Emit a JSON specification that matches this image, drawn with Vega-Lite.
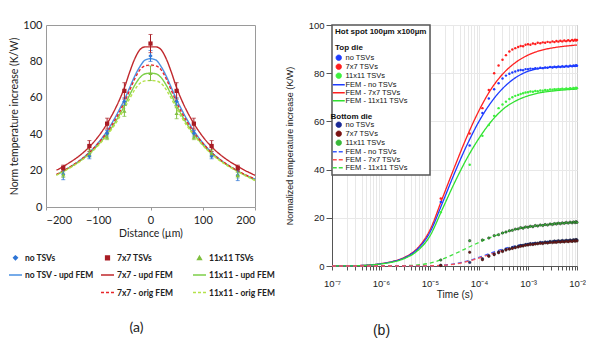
{
"$schema":"https://vega.github.io/schema/vega-lite/v6.json",
"padding":{"left":7,"top":18,"right":0,"bottom":0},
"spacing":8,
"background":"white",
"config":{"view":{"stroke":null}},
"resolve":{"scale":{"color":"independent","strokeDash":"independent"},"legend":{"color":"independent"}},
"datasets":{
"am":[
{"s":"no TSVs","x":-167,"y":18,"e":3},{"s":"no TSVs","x":-117,"y":28,"e":1.5},{"s":"no TSVs","x":-83,"y":40.5,"e":1.5},{"s":"no TSVs","x":-50,"y":58,"e":2},{"s":"no TSVs","x":0,"y":83,"e":3},{"s":"no TSVs","x":50,"y":58,"e":2},{"s":"no TSVs","x":83,"y":40.5,"e":1.5},{"s":"no TSVs","x":117,"y":28,"e":1.5},{"s":"no TSVs","x":167,"y":17.5,"e":3},
{"s":"7x7 TSVs","x":-167,"y":21.5,"e":1.5},{"s":"7x7 TSVs","x":-117,"y":33.5,"e":3},{"s":"7x7 TSVs","x":-83,"y":45.8,"e":3},{"s":"7x7 TSVs","x":-50,"y":63.8,"e":4.5},{"s":"7x7 TSVs","x":0,"y":89.8,"e":5},{"s":"7x7 TSVs","x":50,"y":63.8,"e":4.5},{"s":"7x7 TSVs","x":83,"y":45.8,"e":3},{"s":"7x7 TSVs","x":117,"y":33.5,"e":3},{"s":"7x7 TSVs","x":167,"y":21.5,"e":1.5},
{"s":"11x11 TSVs","x":-167,"y":17.8,"e":1.5},{"s":"11x11 TSVs","x":-117,"y":29.5,"e":2},{"s":"11x11 TSVs","x":-83,"y":38.5,"e":1.5},{"s":"11x11 TSVs","x":-50,"y":52.8,"e":3},{"s":"11x11 TSVs","x":0,"y":73.5,"e":4},{"s":"11x11 TSVs","x":50,"y":51.5,"e":3},{"s":"11x11 TSVs","x":83,"y":38.5,"e":1.5},{"s":"11x11 TSVs","x":117,"y":29.5,"e":2},{"s":"11x11 TSVs","x":167,"y":17.5,"e":1.5}
],
"al":[
{"s":"no TSV - upd FEM","x":-180,"y":17.8},{"s":"no TSV - upd FEM","x":-170,"y":19.3},{"s":"no TSV - upd FEM","x":-160,"y":21},{"s":"no TSV - upd FEM","x":-150,"y":22.7},{"s":"no TSV - upd FEM","x":-140,"y":24.6},{"s":"no TSV - upd FEM","x":-130,"y":26.8},{"s":"no TSV - upd FEM","x":-120,"y":29.2},{"s":"no TSV - upd FEM","x":-110,"y":32},{"s":"no TSV - upd FEM","x":-100,"y":35.3},{"s":"no TSV - upd FEM","x":-90,"y":39},{"s":"no TSV - upd FEM","x":-80,"y":43.2},{"s":"no TSV - upd FEM","x":-70,"y":48},{"s":"no TSV - upd FEM","x":-60,"y":53.3},{"s":"no TSV - upd FEM","x":-50,"y":59},{"s":"no TSV - upd FEM","x":-40,"y":65.5},{"s":"no TSV - upd FEM","x":-30,"y":72},{"s":"no TSV - upd FEM","x":-20,"y":77.3},{"s":"no TSV - upd FEM","x":-10,"y":80.8},{"s":"no TSV - upd FEM","x":0,"y":81.5},{"s":"no TSV - upd FEM","x":10,"y":80.8},{"s":"no TSV - upd FEM","x":20,"y":77.3},{"s":"no TSV - upd FEM","x":30,"y":72},{"s":"no TSV - upd FEM","x":40,"y":65.5},{"s":"no TSV - upd FEM","x":50,"y":59},{"s":"no TSV - upd FEM","x":60,"y":53.3},{"s":"no TSV - upd FEM","x":70,"y":48},{"s":"no TSV - upd FEM","x":80,"y":43.2},{"s":"no TSV - upd FEM","x":90,"y":39},{"s":"no TSV - upd FEM","x":100,"y":35.3},{"s":"no TSV - upd FEM","x":110,"y":32},{"s":"no TSV - upd FEM","x":120,"y":29.2},{"s":"no TSV - upd FEM","x":130,"y":26.8},{"s":"no TSV - upd FEM","x":140,"y":24.6},{"s":"no TSV - upd FEM","x":150,"y":22.7},{"s":"no TSV - upd FEM","x":160,"y":21},{"s":"no TSV - upd FEM","x":170,"y":19.3},{"s":"no TSV - upd FEM","x":180,"y":17.8},{"s":"no TSV - upd FEM","x":190,"y":16.5},{"s":"no TSV - upd FEM","x":200,"y":15.4},
{"s":"7x7 - upd FEM","x":-180,"y":20.2},{"s":"7x7 - upd FEM","x":-170,"y":21.8},{"s":"7x7 - upd FEM","x":-160,"y":23.5},{"s":"7x7 - upd FEM","x":-150,"y":25.3},{"s":"7x7 - upd FEM","x":-140,"y":27.3},{"s":"7x7 - upd FEM","x":-130,"y":29.6},{"s":"7x7 - upd FEM","x":-120,"y":32.2},{"s":"7x7 - upd FEM","x":-110,"y":35.2},{"s":"7x7 - upd FEM","x":-100,"y":38.7},{"s":"7x7 - upd FEM","x":-90,"y":42.7},{"s":"7x7 - upd FEM","x":-80,"y":47.3},{"s":"7x7 - upd FEM","x":-70,"y":52.5},{"s":"7x7 - upd FEM","x":-60,"y":58.5},{"s":"7x7 - upd FEM","x":-50,"y":65.5},{"s":"7x7 - upd FEM","x":-40,"y":74},{"s":"7x7 - upd FEM","x":-30,"y":81.5},{"s":"7x7 - upd FEM","x":-20,"y":86.5},{"s":"7x7 - upd FEM","x":-10,"y":88},{"s":"7x7 - upd FEM","x":0,"y":88},{"s":"7x7 - upd FEM","x":10,"y":88},{"s":"7x7 - upd FEM","x":20,"y":86.5},{"s":"7x7 - upd FEM","x":30,"y":81.5},{"s":"7x7 - upd FEM","x":40,"y":74},{"s":"7x7 - upd FEM","x":50,"y":65.5},{"s":"7x7 - upd FEM","x":60,"y":58.5},{"s":"7x7 - upd FEM","x":70,"y":52.5},{"s":"7x7 - upd FEM","x":80,"y":47.3},{"s":"7x7 - upd FEM","x":90,"y":42.7},{"s":"7x7 - upd FEM","x":100,"y":38.7},{"s":"7x7 - upd FEM","x":110,"y":35.2},{"s":"7x7 - upd FEM","x":120,"y":32.2},{"s":"7x7 - upd FEM","x":130,"y":29.6},{"s":"7x7 - upd FEM","x":140,"y":27.3},{"s":"7x7 - upd FEM","x":150,"y":25.3},{"s":"7x7 - upd FEM","x":160,"y":23.5},{"s":"7x7 - upd FEM","x":170,"y":21.8},{"s":"7x7 - upd FEM","x":180,"y":20.2},{"s":"7x7 - upd FEM","x":190,"y":18.8},{"s":"7x7 - upd FEM","x":200,"y":17.4},
{"s":"11x11 - upd FEM","x":-180,"y":17.7},{"s":"11x11 - upd FEM","x":-170,"y":19.2},{"s":"11x11 - upd FEM","x":-160,"y":20.8},{"s":"11x11 - upd FEM","x":-150,"y":22.5},{"s":"11x11 - upd FEM","x":-140,"y":24.3},{"s":"11x11 - upd FEM","x":-130,"y":26.3},{"s":"11x11 - upd FEM","x":-120,"y":28.6},{"s":"11x11 - upd FEM","x":-110,"y":31.2},{"s":"11x11 - upd FEM","x":-100,"y":34.2},{"s":"11x11 - upd FEM","x":-90,"y":37.5},{"s":"11x11 - upd FEM","x":-80,"y":41.2},{"s":"11x11 - upd FEM","x":-70,"y":45.5},{"s":"11x11 - upd FEM","x":-60,"y":50.3},{"s":"11x11 - upd FEM","x":-50,"y":55.5},{"s":"11x11 - upd FEM","x":-40,"y":61.5},{"s":"11x11 - upd FEM","x":-30,"y":67},{"s":"11x11 - upd FEM","x":-20,"y":71.2},{"s":"11x11 - upd FEM","x":-10,"y":73.2},{"s":"11x11 - upd FEM","x":0,"y":73.5},{"s":"11x11 - upd FEM","x":10,"y":73.2},{"s":"11x11 - upd FEM","x":20,"y":71.2},{"s":"11x11 - upd FEM","x":30,"y":67},{"s":"11x11 - upd FEM","x":40,"y":61.5},{"s":"11x11 - upd FEM","x":50,"y":55.5},{"s":"11x11 - upd FEM","x":60,"y":50.3},{"s":"11x11 - upd FEM","x":70,"y":45.5},{"s":"11x11 - upd FEM","x":80,"y":41.2},{"s":"11x11 - upd FEM","x":90,"y":37.5},{"s":"11x11 - upd FEM","x":100,"y":34.2},{"s":"11x11 - upd FEM","x":110,"y":31.2},{"s":"11x11 - upd FEM","x":120,"y":28.6},{"s":"11x11 - upd FEM","x":130,"y":26.3},{"s":"11x11 - upd FEM","x":140,"y":24.3},{"s":"11x11 - upd FEM","x":150,"y":22.5},{"s":"11x11 - upd FEM","x":160,"y":20.8},{"s":"11x11 - upd FEM","x":170,"y":19.2},{"s":"11x11 - upd FEM","x":180,"y":17.7},{"s":"11x11 - upd FEM","x":190,"y":16.2},{"s":"11x11 - upd FEM","x":200,"y":14.7},
{"s":"7x7 - orig FEM","x":-180,"y":17.9},{"s":"7x7 - orig FEM","x":-170,"y":19.4},{"s":"7x7 - orig FEM","x":-160,"y":21},{"s":"7x7 - orig FEM","x":-150,"y":22.7},{"s":"7x7 - orig FEM","x":-140,"y":24.6},{"s":"7x7 - orig FEM","x":-130,"y":26.7},{"s":"7x7 - orig FEM","x":-120,"y":29.1},{"s":"7x7 - orig FEM","x":-110,"y":31.9},{"s":"7x7 - orig FEM","x":-100,"y":35},{"s":"7x7 - orig FEM","x":-90,"y":38.4},{"s":"7x7 - orig FEM","x":-80,"y":42.3},{"s":"7x7 - orig FEM","x":-70,"y":46.8},{"s":"7x7 - orig FEM","x":-60,"y":51.8},{"s":"7x7 - orig FEM","x":-50,"y":57.5},{"s":"7x7 - orig FEM","x":-40,"y":64},{"s":"7x7 - orig FEM","x":-30,"y":70.5},{"s":"7x7 - orig FEM","x":-20,"y":75.5},{"s":"7x7 - orig FEM","x":-10,"y":77.6},{"s":"7x7 - orig FEM","x":0,"y":78},{"s":"7x7 - orig FEM","x":10,"y":77.6},{"s":"7x7 - orig FEM","x":20,"y":75.5},{"s":"7x7 - orig FEM","x":30,"y":70.5},{"s":"7x7 - orig FEM","x":40,"y":64},{"s":"7x7 - orig FEM","x":50,"y":57.5},{"s":"7x7 - orig FEM","x":60,"y":51.8},{"s":"7x7 - orig FEM","x":70,"y":46.8},{"s":"7x7 - orig FEM","x":80,"y":42.3},{"s":"7x7 - orig FEM","x":90,"y":38.4},{"s":"7x7 - orig FEM","x":100,"y":35},{"s":"7x7 - orig FEM","x":110,"y":31.9},{"s":"7x7 - orig FEM","x":120,"y":29.1},{"s":"7x7 - orig FEM","x":130,"y":26.7},{"s":"7x7 - orig FEM","x":140,"y":24.6},{"s":"7x7 - orig FEM","x":150,"y":22.7},{"s":"7x7 - orig FEM","x":160,"y":21},{"s":"7x7 - orig FEM","x":170,"y":19.4},{"s":"7x7 - orig FEM","x":180,"y":17.9},{"s":"7x7 - orig FEM","x":190,"y":16.6},{"s":"7x7 - orig FEM","x":200,"y":15.3},
{"s":"11x11 - orig FEM","x":-180,"y":17.4},{"s":"11x11 - orig FEM","x":-170,"y":18.9},{"s":"11x11 - orig FEM","x":-160,"y":20.5},{"s":"11x11 - orig FEM","x":-150,"y":22.2},{"s":"11x11 - orig FEM","x":-140,"y":24},{"s":"11x11 - orig FEM","x":-130,"y":26},{"s":"11x11 - orig FEM","x":-120,"y":28.3},{"s":"11x11 - orig FEM","x":-110,"y":30.9},{"s":"11x11 - orig FEM","x":-100,"y":33.8},{"s":"11x11 - orig FEM","x":-90,"y":37},{"s":"11x11 - orig FEM","x":-80,"y":40.5},{"s":"11x11 - orig FEM","x":-70,"y":44.5},{"s":"11x11 - orig FEM","x":-60,"y":49},{"s":"11x11 - orig FEM","x":-50,"y":54},{"s":"11x11 - orig FEM","x":-40,"y":59.5},{"s":"11x11 - orig FEM","x":-30,"y":64.5},{"s":"11x11 - orig FEM","x":-20,"y":68},{"s":"11x11 - orig FEM","x":-10,"y":69.3},{"s":"11x11 - orig FEM","x":0,"y":69.5},{"s":"11x11 - orig FEM","x":10,"y":69.3},{"s":"11x11 - orig FEM","x":20,"y":68},{"s":"11x11 - orig FEM","x":30,"y":64.5},{"s":"11x11 - orig FEM","x":40,"y":59.5},{"s":"11x11 - orig FEM","x":50,"y":54},{"s":"11x11 - orig FEM","x":60,"y":49},{"s":"11x11 - orig FEM","x":70,"y":44.5},{"s":"11x11 - orig FEM","x":80,"y":40.5},{"s":"11x11 - orig FEM","x":90,"y":37},{"s":"11x11 - orig FEM","x":100,"y":33.8},{"s":"11x11 - orig FEM","x":110,"y":30.9},{"s":"11x11 - orig FEM","x":120,"y":28.3},{"s":"11x11 - orig FEM","x":130,"y":26},{"s":"11x11 - orig FEM","x":140,"y":24},{"s":"11x11 - orig FEM","x":150,"y":22.2},{"s":"11x11 - orig FEM","x":160,"y":20.5},{"s":"11x11 - orig FEM","x":170,"y":18.9},{"s":"11x11 - orig FEM","x":180,"y":17.4},{"s":"11x11 - orig FEM","x":190,"y":16},{"s":"11x11 - orig FEM","x":200,"y":14.5}
],
"bl":[
{"s":"T|FEM - 7x7 TSVs","t":1e-7,"v":0},{"s":"T|FEM - 7x7 TSVs","t":1.78e-7,"v":0.05},{"s":"T|FEM - 7x7 TSVs","t":3.16e-7,"v":0.15},{"s":"T|FEM - 7x7 TSVs","t":5.62e-7,"v":0.4},{"s":"T|FEM - 7x7 TSVs","t":1e-6,"v":1},{"s":"T|FEM - 7x7 TSVs","t":1.78e-6,"v":2},{"s":"T|FEM - 7x7 TSVs","t":3.16e-6,"v":3.8},{"s":"T|FEM - 7x7 TSVs","t":5.62e-6,"v":7.5},{"s":"T|FEM - 7x7 TSVs","t":1e-5,"v":15},{"s":"T|FEM - 7x7 TSVs","t":1.78e-5,"v":28},{"s":"T|FEM - 7x7 TSVs","t":3.16e-5,"v":41},{"s":"T|FEM - 7x7 TSVs","t":5.62e-5,"v":53.5},{"s":"T|FEM - 7x7 TSVs","t":1e-4,"v":64.5},{"s":"T|FEM - 7x7 TSVs","t":1.78e-4,"v":73.5},{"s":"T|FEM - 7x7 TSVs","t":3.16e-4,"v":80},{"s":"T|FEM - 7x7 TSVs","t":5.62e-4,"v":84.5},{"s":"T|FEM - 7x7 TSVs","t":1e-3,"v":87.5},{"s":"T|FEM - 7x7 TSVs","t":1.78e-3,"v":89.4},{"s":"T|FEM - 7x7 TSVs","t":3.16e-3,"v":90.5},{"s":"T|FEM - 7x7 TSVs","t":5.62e-3,"v":91.2},{"s":"T|FEM - 7x7 TSVs","t":1e-2,"v":91.7},
{"s":"T|FEM - no TSVs","t":1e-7,"v":0},{"s":"T|FEM - no TSVs","t":1.78e-7,"v":0.05},{"s":"T|FEM - no TSVs","t":3.16e-7,"v":0.15},{"s":"T|FEM - no TSVs","t":5.62e-7,"v":0.38},{"s":"T|FEM - no TSVs","t":1e-6,"v":0.95},{"s":"T|FEM - no TSVs","t":1.78e-6,"v":1.9},{"s":"T|FEM - no TSVs","t":3.16e-6,"v":3.6},{"s":"T|FEM - no TSVs","t":5.62e-6,"v":7.1},{"s":"T|FEM - no TSVs","t":1e-5,"v":14},{"s":"T|FEM - no TSVs","t":1.78e-5,"v":26},{"s":"T|FEM - no TSVs","t":3.16e-5,"v":38.5},{"s":"T|FEM - no TSVs","t":5.62e-5,"v":50},{"s":"T|FEM - no TSVs","t":1e-4,"v":60},{"s":"T|FEM - no TSVs","t":1.78e-4,"v":68},{"s":"T|FEM - no TSVs","t":3.16e-4,"v":74},{"s":"T|FEM - no TSVs","t":5.62e-4,"v":78.2},{"s":"T|FEM - no TSVs","t":1e-3,"v":80.8},{"s":"T|FEM - no TSVs","t":1.78e-3,"v":82},{"s":"T|FEM - no TSVs","t":3.16e-3,"v":82.5},{"s":"T|FEM - no TSVs","t":5.62e-3,"v":82.7},{"s":"T|FEM - no TSVs","t":1e-2,"v":82.9},
{"s":"T|FEM - 11x11 TSVs","t":1e-7,"v":0},{"s":"T|FEM - 11x11 TSVs","t":1.78e-7,"v":0.04},{"s":"T|FEM - 11x11 TSVs","t":3.16e-7,"v":0.13},{"s":"T|FEM - 11x11 TSVs","t":5.62e-7,"v":0.35},{"s":"T|FEM - 11x11 TSVs","t":1e-6,"v":0.85},{"s":"T|FEM - 11x11 TSVs","t":1.78e-6,"v":1.7},{"s":"T|FEM - 11x11 TSVs","t":3.16e-6,"v":3.3},{"s":"T|FEM - 11x11 TSVs","t":5.62e-6,"v":6.4},{"s":"T|FEM - 11x11 TSVs","t":1e-5,"v":12.5},{"s":"T|FEM - 11x11 TSVs","t":1.78e-5,"v":23.5},{"s":"T|FEM - 11x11 TSVs","t":3.16e-5,"v":34.5},{"s":"T|FEM - 11x11 TSVs","t":5.62e-5,"v":44.5},{"s":"T|FEM - 11x11 TSVs","t":1e-4,"v":53},{"s":"T|FEM - 11x11 TSVs","t":1.78e-4,"v":60},{"s":"T|FEM - 11x11 TSVs","t":3.16e-4,"v":65.2},{"s":"T|FEM - 11x11 TSVs","t":5.62e-4,"v":68.5},{"s":"T|FEM - 11x11 TSVs","t":1e-3,"v":70.6},{"s":"T|FEM - 11x11 TSVs","t":1.78e-3,"v":71.9},{"s":"T|FEM - 11x11 TSVs","t":3.16e-3,"v":72.6},{"s":"T|FEM - 11x11 TSVs","t":5.62e-3,"v":73.1},{"s":"T|FEM - 11x11 TSVs","t":1e-2,"v":73.4},
{"s":"B|FEM - 11x11 TSVs","t":1e-7,"v":0},{"s":"B|FEM - 11x11 TSVs","t":1.78e-7,"v":0},{"s":"B|FEM - 11x11 TSVs","t":3.16e-7,"v":0},{"s":"B|FEM - 11x11 TSVs","t":5.62e-7,"v":0},{"s":"B|FEM - 11x11 TSVs","t":1e-6,"v":0.02},{"s":"B|FEM - 11x11 TSVs","t":1.78e-6,"v":0.05},{"s":"B|FEM - 11x11 TSVs","t":3.16e-6,"v":0.15},{"s":"B|FEM - 11x11 TSVs","t":5.62e-6,"v":0.45},{"s":"B|FEM - 11x11 TSVs","t":1e-5,"v":1.2},{"s":"B|FEM - 11x11 TSVs","t":1.78e-5,"v":2.8},{"s":"B|FEM - 11x11 TSVs","t":3.16e-5,"v":5},{"s":"B|FEM - 11x11 TSVs","t":5.62e-5,"v":7.4},{"s":"B|FEM - 11x11 TSVs","t":1e-4,"v":9.8},{"s":"B|FEM - 11x11 TSVs","t":1.78e-4,"v":12},{"s":"B|FEM - 11x11 TSVs","t":3.16e-4,"v":13.8},{"s":"B|FEM - 11x11 TSVs","t":5.62e-4,"v":15.2},{"s":"B|FEM - 11x11 TSVs","t":1e-3,"v":16.2},{"s":"B|FEM - 11x11 TSVs","t":1.78e-3,"v":16.9},{"s":"B|FEM - 11x11 TSVs","t":3.16e-3,"v":17.5},{"s":"B|FEM - 11x11 TSVs","t":5.62e-3,"v":17.9},{"s":"B|FEM - 11x11 TSVs","t":1e-2,"v":18.2},
{"s":"B|FEM - no TSVs","t":1e-7,"v":0},{"s":"B|FEM - no TSVs","t":1.78e-7,"v":0},{"s":"B|FEM - no TSVs","t":3.16e-7,"v":0},{"s":"B|FEM - no TSVs","t":5.62e-7,"v":0},{"s":"B|FEM - no TSVs","t":1e-6,"v":0},{"s":"B|FEM - no TSVs","t":1.78e-6,"v":0},{"s":"B|FEM - no TSVs","t":3.16e-6,"v":0.01},{"s":"B|FEM - no TSVs","t":5.62e-6,"v":0.03},{"s":"B|FEM - no TSVs","t":1e-5,"v":0.08},{"s":"B|FEM - no TSVs","t":1.78e-5,"v":0.3},{"s":"B|FEM - no TSVs","t":3.16e-5,"v":0.9},{"s":"B|FEM - no TSVs","t":5.62e-5,"v":2},{"s":"B|FEM - no TSVs","t":1e-4,"v":3.6},{"s":"B|FEM - no TSVs","t":1.78e-4,"v":5.4},{"s":"B|FEM - no TSVs","t":3.16e-4,"v":7.1},{"s":"B|FEM - no TSVs","t":5.62e-4,"v":8.4},{"s":"B|FEM - no TSVs","t":1e-3,"v":9.3},{"s":"B|FEM - no TSVs","t":1.78e-3,"v":9.9},{"s":"B|FEM - no TSVs","t":3.16e-3,"v":10.3},{"s":"B|FEM - no TSVs","t":5.62e-3,"v":10.6},{"s":"B|FEM - no TSVs","t":1e-2,"v":10.9},
{"s":"B|FEM - 7x7 TSVs","t":1e-7,"v":0},{"s":"B|FEM - 7x7 TSVs","t":1.78e-7,"v":0},{"s":"B|FEM - 7x7 TSVs","t":3.16e-7,"v":0},{"s":"B|FEM - 7x7 TSVs","t":5.62e-7,"v":0},{"s":"B|FEM - 7x7 TSVs","t":1e-6,"v":0},{"s":"B|FEM - 7x7 TSVs","t":1.78e-6,"v":0},{"s":"B|FEM - 7x7 TSVs","t":3.16e-6,"v":0.01},{"s":"B|FEM - 7x7 TSVs","t":5.62e-6,"v":0.03},{"s":"B|FEM - 7x7 TSVs","t":1e-5,"v":0.07},{"s":"B|FEM - 7x7 TSVs","t":1.78e-5,"v":0.25},{"s":"B|FEM - 7x7 TSVs","t":3.16e-5,"v":0.8},{"s":"B|FEM - 7x7 TSVs","t":5.62e-5,"v":1.8},{"s":"B|FEM - 7x7 TSVs","t":1e-4,"v":3.3},{"s":"B|FEM - 7x7 TSVs","t":1.78e-4,"v":5},{"s":"B|FEM - 7x7 TSVs","t":3.16e-4,"v":6.6},{"s":"B|FEM - 7x7 TSVs","t":5.62e-4,"v":7.8},{"s":"B|FEM - 7x7 TSVs","t":1e-3,"v":8.7},{"s":"B|FEM - 7x7 TSVs","t":1.78e-3,"v":9.3},{"s":"B|FEM - 7x7 TSVs","t":3.16e-3,"v":9.7},{"s":"B|FEM - 7x7 TSVs","t":5.62e-3,"v":10},{"s":"B|FEM - 7x7 TSVs","t":1e-2,"v":10.3}
],
"bm":[
{"s":"T|7x7 TSVs","t":1.66e-5,"v":28},{"s":"T|7x7 TSVs","t":6.46e-5,"v":55},{"s":"T|7x7 TSVs","t":1.175e-4,"v":65.5},{"s":"T|7x7 TSVs","t":1.585e-4,"v":73},{"s":"T|7x7 TSVs","t":2.04e-4,"v":80},{"s":"T|7x7 TSVs","t":2.51e-4,"v":83.2},{"s":"T|7x7 TSVs","t":3.02e-4,"v":85.6},{"s":"T|7x7 TSVs","t":3.55e-4,"v":87.5},{"s":"T|7x7 TSVs","t":4.17e-4,"v":89},{"s":"T|7x7 TSVs","t":4.79e-4,"v":89.8},{"s":"T|7x7 TSVs","t":5.5e-4,"v":90.4},{"s":"T|7x7 TSVs","t":6.31e-4,"v":90.9},{"s":"T|7x7 TSVs","t":7.08e-4,"v":91.3},{"s":"T|7x7 TSVs","t":7.94e-4,"v":91.2},{"s":"T|7x7 TSVs","t":8.91e-4,"v":91.8},{"s":"T|7x7 TSVs","t":1e-3,"v":92},{"s":"T|7x7 TSVs","t":1.12e-3,"v":91.8},{"s":"T|7x7 TSVs","t":1.26e-3,"v":92.3},{"s":"T|7x7 TSVs","t":1.41e-3,"v":92.1},{"s":"T|7x7 TSVs","t":1.58e-3,"v":92.6},{"s":"T|7x7 TSVs","t":1.78e-3,"v":92.4},{"s":"T|7x7 TSVs","t":2e-3,"v":92.8},{"s":"T|7x7 TSVs","t":2.24e-3,"v":92.6},{"s":"T|7x7 TSVs","t":2.51e-3,"v":93},{"s":"T|7x7 TSVs","t":2.82e-3,"v":92.8},{"s":"T|7x7 TSVs","t":3.16e-3,"v":93.2},{"s":"T|7x7 TSVs","t":3.47e-3,"v":92.9},{"s":"T|7x7 TSVs","t":3.8e-3,"v":93.4},{"s":"T|7x7 TSVs","t":4.17e-3,"v":93.1},{"s":"T|7x7 TSVs","t":4.57e-3,"v":93.5},{"s":"T|7x7 TSVs","t":5.01e-3,"v":93.2},{"s":"T|7x7 TSVs","t":5.5e-3,"v":93.6},{"s":"T|7x7 TSVs","t":6.03e-3,"v":93.3},{"s":"T|7x7 TSVs","t":6.61e-3,"v":93.7},{"s":"T|7x7 TSVs","t":7.24e-3,"v":93.4},{"s":"T|7x7 TSVs","t":7.94e-3,"v":93.8},{"s":"T|7x7 TSVs","t":8.51e-3,"v":93.5},{"s":"T|7x7 TSVs","t":9.12e-3,"v":93.9},{"s":"T|7x7 TSVs","t":9.55e-3,"v":93.6},{"s":"T|7x7 TSVs","t":1e-2,"v":93.8},
{"s":"T|no TSVs","t":1.66e-5,"v":26.6},{"s":"T|no TSVs","t":6.46e-5,"v":50},{"s":"T|no TSVs","t":1.175e-4,"v":63.5},{"s":"T|no TSVs","t":1.585e-4,"v":69.5},{"s":"T|no TSVs","t":2.04e-4,"v":73.3},{"s":"T|no TSVs","t":2.51e-4,"v":75.8},{"s":"T|no TSVs","t":3.02e-4,"v":77.8},{"s":"T|no TSVs","t":3.55e-4,"v":79},{"s":"T|no TSVs","t":4.17e-4,"v":79.8},{"s":"T|no TSVs","t":4.79e-4,"v":80.3},{"s":"T|no TSVs","t":5.5e-4,"v":80.7},{"s":"T|no TSVs","t":6.31e-4,"v":81.1},{"s":"T|no TSVs","t":7.08e-4,"v":81.3},{"s":"T|no TSVs","t":7.94e-4,"v":81.2},{"s":"T|no TSVs","t":8.91e-4,"v":81.7},{"s":"T|no TSVs","t":1e-3,"v":81.6},{"s":"T|no TSVs","t":1.12e-3,"v":81.9},{"s":"T|no TSVs","t":1.26e-3,"v":81.8},{"s":"T|no TSVs","t":1.41e-3,"v":82.1},{"s":"T|no TSVs","t":1.58e-3,"v":82},{"s":"T|no TSVs","t":1.78e-3,"v":82.3},{"s":"T|no TSVs","t":2e-3,"v":82.1},{"s":"T|no TSVs","t":2.24e-3,"v":82.4},{"s":"T|no TSVs","t":2.51e-3,"v":82.3},{"s":"T|no TSVs","t":2.82e-3,"v":82.6},{"s":"T|no TSVs","t":3.16e-3,"v":82.4},{"s":"T|no TSVs","t":3.47e-3,"v":82.7},{"s":"T|no TSVs","t":3.8e-3,"v":82.5},{"s":"T|no TSVs","t":4.17e-3,"v":82.8},{"s":"T|no TSVs","t":4.57e-3,"v":82.6},{"s":"T|no TSVs","t":5.01e-3,"v":82.9},{"s":"T|no TSVs","t":5.5e-3,"v":82.7},{"s":"T|no TSVs","t":6.03e-3,"v":83},{"s":"T|no TSVs","t":6.61e-3,"v":82.8},{"s":"T|no TSVs","t":7.24e-3,"v":83.1},{"s":"T|no TSVs","t":7.94e-3,"v":82.9},{"s":"T|no TSVs","t":8.51e-3,"v":83.2},{"s":"T|no TSVs","t":9.12e-3,"v":83},{"s":"T|no TSVs","t":9.55e-3,"v":83.3},{"s":"T|no TSVs","t":1e-2,"v":83.1},
{"s":"T|11x11 TSVs","t":1.66e-5,"v":22.3},{"s":"T|11x11 TSVs","t":6.46e-5,"v":42},{"s":"T|11x11 TSVs","t":1.175e-4,"v":54},{"s":"T|11x11 TSVs","t":1.585e-4,"v":58.5},{"s":"T|11x11 TSVs","t":2.04e-4,"v":62.3},{"s":"T|11x11 TSVs","t":2.51e-4,"v":65.5},{"s":"T|11x11 TSVs","t":3.02e-4,"v":67},{"s":"T|11x11 TSVs","t":3.55e-4,"v":68.2},{"s":"T|11x11 TSVs","t":4.17e-4,"v":69.3},{"s":"T|11x11 TSVs","t":4.79e-4,"v":70},{"s":"T|11x11 TSVs","t":5.5e-4,"v":70.6},{"s":"T|11x11 TSVs","t":6.31e-4,"v":71},{"s":"T|11x11 TSVs","t":7.08e-4,"v":71.4},{"s":"T|11x11 TSVs","t":7.94e-4,"v":71.7},{"s":"T|11x11 TSVs","t":8.91e-4,"v":72},{"s":"T|11x11 TSVs","t":1e-3,"v":72.1},{"s":"T|11x11 TSVs","t":1.12e-3,"v":72.4},{"s":"T|11x11 TSVs","t":1.26e-3,"v":72.3},{"s":"T|11x11 TSVs","t":1.41e-3,"v":72.6},{"s":"T|11x11 TSVs","t":1.58e-3,"v":72.5},{"s":"T|11x11 TSVs","t":1.78e-3,"v":72.8},{"s":"T|11x11 TSVs","t":2e-3,"v":72.7},{"s":"T|11x11 TSVs","t":2.24e-3,"v":73},{"s":"T|11x11 TSVs","t":2.51e-3,"v":72.9},{"s":"T|11x11 TSVs","t":2.82e-3,"v":73.2},{"s":"T|11x11 TSVs","t":3.16e-3,"v":73.1},{"s":"T|11x11 TSVs","t":3.47e-3,"v":73.4},{"s":"T|11x11 TSVs","t":3.8e-3,"v":73.2},{"s":"T|11x11 TSVs","t":4.17e-3,"v":73.5},{"s":"T|11x11 TSVs","t":4.57e-3,"v":73.3},{"s":"T|11x11 TSVs","t":5.01e-3,"v":73.6},{"s":"T|11x11 TSVs","t":5.5e-3,"v":73.4},{"s":"T|11x11 TSVs","t":6.03e-3,"v":73.7},{"s":"T|11x11 TSVs","t":6.61e-3,"v":73.5},{"s":"T|11x11 TSVs","t":7.24e-3,"v":73.8},{"s":"T|11x11 TSVs","t":7.94e-3,"v":73.6},{"s":"T|11x11 TSVs","t":8.51e-3,"v":73.9},{"s":"T|11x11 TSVs","t":9.12e-3,"v":73.7},{"s":"T|11x11 TSVs","t":9.55e-3,"v":74},{"s":"T|11x11 TSVs","t":1e-2,"v":73.8},
{"s":"B|11x11 TSVs","t":1.66e-5,"v":2.5},{"s":"B|11x11 TSVs","t":6.46e-5,"v":10.5},{"s":"B|11x11 TSVs","t":1.175e-4,"v":10.8},{"s":"B|11x11 TSVs","t":1.585e-4,"v":11.6},{"s":"B|11x11 TSVs","t":2.04e-4,"v":12.6},{"s":"B|11x11 TSVs","t":2.51e-4,"v":13},{"s":"B|11x11 TSVs","t":3.02e-4,"v":13.7},{"s":"B|11x11 TSVs","t":3.55e-4,"v":14.1},{"s":"B|11x11 TSVs","t":4.17e-4,"v":14.6},{"s":"B|11x11 TSVs","t":4.79e-4,"v":14.8},{"s":"B|11x11 TSVs","t":5.5e-4,"v":15.3},{"s":"B|11x11 TSVs","t":6.31e-4,"v":15.4},{"s":"B|11x11 TSVs","t":7.08e-4,"v":15.9},{"s":"B|11x11 TSVs","t":7.94e-4,"v":15.7},{"s":"B|11x11 TSVs","t":8.91e-4,"v":16.2},{"s":"B|11x11 TSVs","t":1e-3,"v":16.1},{"s":"B|11x11 TSVs","t":1.12e-3,"v":16.5},{"s":"B|11x11 TSVs","t":1.26e-3,"v":16.3},{"s":"B|11x11 TSVs","t":1.41e-3,"v":16.8},{"s":"B|11x11 TSVs","t":1.58e-3,"v":16.6},{"s":"B|11x11 TSVs","t":1.78e-3,"v":17},{"s":"B|11x11 TSVs","t":2e-3,"v":16.8},{"s":"B|11x11 TSVs","t":2.24e-3,"v":17.2},{"s":"B|11x11 TSVs","t":2.51e-3,"v":17},{"s":"B|11x11 TSVs","t":2.82e-3,"v":17.4},{"s":"B|11x11 TSVs","t":3.16e-3,"v":17.2},{"s":"B|11x11 TSVs","t":3.47e-3,"v":17.6},{"s":"B|11x11 TSVs","t":3.8e-3,"v":17.4},{"s":"B|11x11 TSVs","t":4.17e-3,"v":17.8},{"s":"B|11x11 TSVs","t":4.57e-3,"v":17.5},{"s":"B|11x11 TSVs","t":5.01e-3,"v":17.9},{"s":"B|11x11 TSVs","t":5.5e-3,"v":17.7},{"s":"B|11x11 TSVs","t":6.03e-3,"v":18.1},{"s":"B|11x11 TSVs","t":6.61e-3,"v":17.8},{"s":"B|11x11 TSVs","t":7.24e-3,"v":18.2},{"s":"B|11x11 TSVs","t":7.94e-3,"v":17.9},{"s":"B|11x11 TSVs","t":8.51e-3,"v":18.3},{"s":"B|11x11 TSVs","t":9.12e-3,"v":18},{"s":"B|11x11 TSVs","t":9.55e-3,"v":18.4},{"s":"B|11x11 TSVs","t":1e-2,"v":18.1},
{"s":"B|no TSVs","t":1.66e-5,"v":0.3},{"s":"B|no TSVs","t":6.46e-5,"v":1.5},{"s":"B|no TSVs","t":1.175e-4,"v":3},{"s":"B|no TSVs","t":1.585e-4,"v":4.3},{"s":"B|no TSVs","t":2.04e-4,"v":5},{"s":"B|no TSVs","t":2.51e-4,"v":5.8},{"s":"B|no TSVs","t":3.02e-4,"v":6.3},{"s":"B|no TSVs","t":3.55e-4,"v":6.9},{"s":"B|no TSVs","t":4.17e-4,"v":7.2},{"s":"B|no TSVs","t":4.79e-4,"v":7.6},{"s":"B|no TSVs","t":5.5e-4,"v":7.9},{"s":"B|no TSVs","t":6.31e-4,"v":8.2},{"s":"B|no TSVs","t":7.08e-4,"v":8.5},{"s":"B|no TSVs","t":7.94e-4,"v":8.6},{"s":"B|no TSVs","t":8.91e-4,"v":8.9},{"s":"B|no TSVs","t":1e-3,"v":9},{"s":"B|no TSVs","t":1.12e-3,"v":9.3},{"s":"B|no TSVs","t":1.26e-3,"v":9.2},{"s":"B|no TSVs","t":1.41e-3,"v":9.5},{"s":"B|no TSVs","t":1.58e-3,"v":9.5},{"s":"B|no TSVs","t":1.78e-3,"v":9.8},{"s":"B|no TSVs","t":2e-3,"v":9.7},{"s":"B|no TSVs","t":2.24e-3,"v":10},{"s":"B|no TSVs","t":2.51e-3,"v":9.9},{"s":"B|no TSVs","t":2.82e-3,"v":10.2},{"s":"B|no TSVs","t":3.16e-3,"v":10.1},{"s":"B|no TSVs","t":3.47e-3,"v":10.4},{"s":"B|no TSVs","t":3.8e-3,"v":10.2},{"s":"B|no TSVs","t":4.17e-3,"v":10.5},{"s":"B|no TSVs","t":4.57e-3,"v":10.3},{"s":"B|no TSVs","t":5.01e-3,"v":10.6},{"s":"B|no TSVs","t":5.5e-3,"v":10.4},{"s":"B|no TSVs","t":6.03e-3,"v":10.7},{"s":"B|no TSVs","t":6.61e-3,"v":10.5},{"s":"B|no TSVs","t":7.24e-3,"v":10.8},{"s":"B|no TSVs","t":7.94e-3,"v":10.6},{"s":"B|no TSVs","t":8.51e-3,"v":10.9},{"s":"B|no TSVs","t":9.12e-3,"v":10.7},{"s":"B|no TSVs","t":9.55e-3,"v":11},{"s":"B|no TSVs","t":1e-2,"v":10.8},
{"s":"B|7x7 TSVs","t":1.66e-5,"v":0.2},{"s":"B|7x7 TSVs","t":6.46e-5,"v":5.7},{"s":"B|7x7 TSVs","t":1.175e-4,"v":2.6},{"s":"B|7x7 TSVs","t":1.585e-4,"v":4},{"s":"B|7x7 TSVs","t":2.04e-4,"v":4.7},{"s":"B|7x7 TSVs","t":2.51e-4,"v":5.5},{"s":"B|7x7 TSVs","t":3.02e-4,"v":6},{"s":"B|7x7 TSVs","t":3.55e-4,"v":6.6},{"s":"B|7x7 TSVs","t":4.17e-4,"v":7},{"s":"B|7x7 TSVs","t":4.79e-4,"v":7.3},{"s":"B|7x7 TSVs","t":5.5e-4,"v":7.6},{"s":"B|7x7 TSVs","t":6.31e-4,"v":7.9},{"s":"B|7x7 TSVs","t":7.08e-4,"v":8.2},{"s":"B|7x7 TSVs","t":7.94e-4,"v":8.3},{"s":"B|7x7 TSVs","t":8.91e-4,"v":8.6},{"s":"B|7x7 TSVs","t":1e-3,"v":8.7},{"s":"B|7x7 TSVs","t":1.12e-3,"v":8.9},{"s":"B|7x7 TSVs","t":1.26e-3,"v":8.9},{"s":"B|7x7 TSVs","t":1.41e-3,"v":9.1},{"s":"B|7x7 TSVs","t":1.58e-3,"v":9.2},{"s":"B|7x7 TSVs","t":1.78e-3,"v":9.4},{"s":"B|7x7 TSVs","t":2e-3,"v":9.3},{"s":"B|7x7 TSVs","t":2.24e-3,"v":9.6},{"s":"B|7x7 TSVs","t":2.51e-3,"v":9.5},{"s":"B|7x7 TSVs","t":2.82e-3,"v":9.8},{"s":"B|7x7 TSVs","t":3.16e-3,"v":9.7},{"s":"B|7x7 TSVs","t":3.47e-3,"v":9.9},{"s":"B|7x7 TSVs","t":3.8e-3,"v":9.8},{"s":"B|7x7 TSVs","t":4.17e-3,"v":10.1},{"s":"B|7x7 TSVs","t":4.57e-3,"v":9.9},{"s":"B|7x7 TSVs","t":5.01e-3,"v":10.2},{"s":"B|7x7 TSVs","t":5.5e-3,"v":10},{"s":"B|7x7 TSVs","t":6.03e-3,"v":10.3},{"s":"B|7x7 TSVs","t":6.61e-3,"v":10.1},{"s":"B|7x7 TSVs","t":7.24e-3,"v":10.4},{"s":"B|7x7 TSVs","t":7.94e-3,"v":10.2},{"s":"B|7x7 TSVs","t":8.51e-3,"v":10.5},{"s":"B|7x7 TSVs","t":9.12e-3,"v":10.3},{"s":"B|7x7 TSVs","t":9.55e-3,"v":10.6},{"s":"B|7x7 TSVs","t":1e-2,"v":10.4}
]
},
"hconcat":[
{
"width":209,"height":182,
"view":{"stroke":"#9a9a9a","strokeWidth":1},
"title":{"text":"(a)","orient":"bottom","anchor":"middle","frame":"group","dx":-14,"offset":24,"font":"Lato","fontSize":14,"fontWeight":"normal","color":"#222"},
"encoding":{
"x":{"field":"x","type":"quantitative","scale":{"domain":[-200,200],"nice":false},"axis":{"title":"Distance (µm)","values":[-200,-100,0,100,200],"grid":false,"domain":false,"ticks":true,"tickSize":3,"tickColor":"#999","labelFont":"Lato","labelFontSize":11,"labelColor":"#222","labelPadding":4,"titleFont":"Lato","titleFontSize":10.5,"titleFontWeight":"normal","titleColor":"#222","titlePadding":3}},
"y":{"field":"y","type":"quantitative","scale":{"domain":[0,100],"nice":false},"axis":{"title":"Norm temperature increase (K/W)","values":[0,20,40,60,80,100],"grid":false,"domain":false,"ticks":false,"labelFont":"Lato","labelFontSize":11,"labelColor":"#222","labelPadding":4,"titleFont":"Lato","titleFontSize":10.5,"titleFontWeight":"normal","titleColor":"#222","titlePadding":3}},
"color":{"field":"s","type":"nominal","scale":{"domain":["no TSVs","7x7 TSVs","11x11 TSVs","no TSV - upd FEM","7x7 - upd FEM","11x11 - upd FEM"," ","7x7 - orig FEM","11x11 - orig FEM"],"range":["#2e75d6","#a81c24","#7fbf3f","#4a90e2","#c0282d","#7ed04a","transparent","#e8262b","#b5e24a"]},
"legend":{"title":null,"orient":"none","direction":"horizontal","legendX":-38,"legendY":225,"columns":3,"columnPadding":4,"rowPadding":4.5,"gridAlign":"all","symbolSize":169,"labelFont":"Lato","labelFontSize":8.5,"labelFontWeight":"bold","labelColor":"#222","labelOffset":2,
"encode":{"symbols":{"update":{
"shape":{"signal":"datum.index==0 ? 'diamond' : datum.index==1 ? 'square' : datum.index==2 ? 'triangle-up' : 'stroke'"},
"size":{"signal":"datum.index<3 ? 14 : (datum.index==6 ? 0 : 169)"},
"fill":{"signal":"datum.index<3 ? ['#2e75d6','#a81c24','#7fbf3f'][datum.index] : 'transparent'"},
"stroke":{"signal":"['transparent','transparent','transparent','#4a90e2','#c0282d','#7ed04a','transparent','#e8262b','#b5e24a'][datum.index]"},
"strokeWidth":{"value":1.5},
"strokeDash":{"signal":"datum.index>=7 ? [3,2] : [1,0]"},
"opacity":{"value":1}}}}}}
},
"layer":[
{"data":{"name":"al"},"mark":{"type":"line","strokeWidth":1.4,"interpolate":"monotone"},
"encoding":{"strokeDash":{"field":"s","type":"nominal","scale":{"domain":["no TSV - upd FEM","7x7 - upd FEM","11x11 - upd FEM","7x7 - orig FEM","11x11 - orig FEM"],"range":[[1,0],[1,0],[1,0],[3,2],[3,2]]},"legend":null}}},
{"data":{"name":"am"},"mark":{"type":"errorbar","ticks":{"size":4},"thickness":1},
"encoding":{"yError":{"field":"e"}}},
{"data":{"name":"am"},"mark":{"type":"point","filled":true,"size":18,"opacity":1},
"encoding":{"shape":{"field":"s","type":"nominal","scale":{"domain":["no TSVs","7x7 TSVs","11x11 TSVs"],"range":["diamond","square","triangle-up"]},"legend":null}}}
]
},
{
"width":245,"height":241,
"view":{"stroke":"#888","strokeWidth":1},
"title":{"text":"(b)","orient":"bottom","anchor":"middle","frame":"group","dx":-73,"offset":24,"font":"Liberation Sans","fontSize":14,"fontWeight":"normal","color":"#222"},
"encoding":{
"x":{"field":"t","type":"quantitative","scale":{"type":"log","domain":[1e-7,1e-2],"nice":false},"axis":{"title":"Time (s)","values":[1e-7,2e-7,3e-7,4e-7,5e-7,6e-7,7e-7,8e-7,9e-7,1e-6,2e-6,3e-6,4e-6,5e-6,6e-6,7e-6,8e-6,9e-6,1e-5,2e-5,3e-5,4e-5,5e-5,6e-5,7e-5,8e-5,9e-5,1e-4,2e-4,3e-4,4e-4,5e-4,6e-4,7e-4,8e-4,9e-4,1e-3,2e-3,3e-3,4e-3,5e-3,6e-3,7e-3,8e-3,9e-3,1e-2],
"labelExpr":"abs(log(datum.value)/LN10 - round(log(datum.value)/LN10)) < 0.01 ? '10' + ['⁻⁷','⁻⁶','⁻⁵','⁻⁴','⁻³','⁻²'][round(log(datum.value)/LN10)+7] : ''",
"labelOverlap":false,"labelFlush":false,"labelBound":false,
"grid":true,"gridColor":"#e2e2e2","gridWidth":0.8,"tickSize":4,"tickColor":"#555","domainColor":"#555","labelFont":"Liberation Sans","labelFontSize":9.5,"labelColor":"#222","labelPadding":8,"titleFont":"Liberation Sans","titleFontSize":10,"titleFontWeight":"normal","titleColor":"#222","titlePadding":2,
"encode":{"ticks":{"update":{"y2":{"signal":"abs(log(datum.value)/LN10 - round(log(datum.value)/LN10)) < 0.01 ? 7 : 4"}}},"grid":{"update":{"stroke":{"signal":"abs(log(datum.value)/LN10 - round(log(datum.value)/LN10)) < 0.01 ? '#c4c4c4' : '#e4e4e4'"}}}}}},
"y":{"field":"v","type":"quantitative","scale":{"domain":[0,100],"nice":false},"axis":{"title":"Normalized temperature increase (K/W)","values":[0,20,40,60,80,100],"grid":true,"gridColor":"#e8e8e8","tickSize":6,"tickColor":"#555","domainColor":"#555","labelFont":"Liberation Sans","labelFontSize":9.5,"labelColor":"#222","labelPadding":2,"titleFont":"Liberation Sans","titleFontSize":9,"titleFontWeight":"normal","titleColor":"#222","titlePadding":14}},
"color":{"field":"s","type":"nominal","scale":{"domain":["T|no TSVs","T|7x7 TSVs","T|11x11 TSVs","T|FEM - no TSVs","T|FEM - 7x7 TSVs","T|FEM - 11x11 TSVs","sp","Bottom die","B|no TSVs","B|7x7 TSVs","B|11x11 TSVs","B|FEM - no TSVs","B|FEM - 7x7 TSVs","B|FEM - 11x11 TSVs"],"range":["#1e3cff","#ff1e1e","#3ef03e","#1e3cff","#ff2020","#30e030","transparent","transparent","#1a2a96","#7a1212","#38b838","#3a5cff","#ff5050","#40e040"]},
"legend":{"title":["Hot spot 100µm x100µm","Top die"],"orient":"top-left","offset":0,"padding":3,"strokeColor":"#555","fillColor":"#ffffff","titleFont":"Liberation Sans","titleFontSize":8,"titleFontWeight":"bold","titleColor":"#111","titleLineHeight":16,"titlePadding":2,"labelFont":"Liberation Sans","labelFontSize":7.5,"labelColor":"#111","labelOffset":3,"symbolSize":144,"rowPadding":-2.5,
"labelExpr":"indexof(datum.label,'|') > 0 ? split(datum.label,'|')[1] : (datum.label=='sp' ? ' ' : datum.label)",
"encode":{
"legend":{"update":{"strokeWidth":{"value":1.5}}},
"labels":{"update":{"fontWeight":{"signal":"datum.index==7 ? 'bold' : 'normal'"},"fontSize":{"signal":"datum.index==7 ? 8 : 7.5"},"dx":{"signal":"datum.index==7 ? -15 : 0"}}},
"symbols":{"update":{
"shape":{"signal":"(datum.index>=3 && datum.index<=5) || datum.index>=11 ? 'stroke' : 'circle'"},
"size":{"signal":"(datum.index>=3 && datum.index<=5) || datum.index>=11 ? 144 : (datum.index==6 || datum.index==7 ? 0 : 30)"},
"fill":{"signal":"['#1e3cff','#ff1e1e','#3ef03e','transparent','transparent','transparent','transparent','transparent','#1a2a96','#7a1212','#38b838','transparent','transparent','transparent'][datum.index]"},
"stroke":{"signal":"['transparent','transparent','transparent','#1e3cff','#ff2020','#30e030','transparent','transparent','transparent','#222','#333','#3a5cff','#ff5050','#40e040'][datum.index]"},
"strokeWidth":{"signal":"(datum.index>=3 && datum.index<=5) || datum.index>=11 ? 1.5 : 0.8"},
"strokeDash":{"signal":"datum.index>=11 ? [4,2] : [1,0]"},
"opacity":{"value":1}}}}}}
},
"layer":[
{"data":{"name":"bl"},"mark":{"type":"line","strokeWidth":1.3,"interpolate":"monotone"},
"encoding":{"strokeDash":{"field":"s","type":"nominal","scale":{"domain":["T|FEM - no TSVs","T|FEM - 7x7 TSVs","T|FEM - 11x11 TSVs","B|FEM - no TSVs","B|FEM - 7x7 TSVs","B|FEM - 11x11 TSVs"],"range":[[1,0],[1,0],[1,0],[4,3],[4,3],[4,3]]},"legend":null}}},
{"data":{"name":"bm"},"transform":[{"filter":"indexof(datum.s,'T|')==0"}],"mark":{"type":"point","filled":true,"size":6,"opacity":1}},
{"data":{"name":"bm"},"transform":[{"filter":"indexof(datum.s,'B|')==0"}],"mark":{"type":"point","filled":true,"size":6,"opacity":1,"stroke":"#222","strokeWidth":0.5}}
]
}
]
}
